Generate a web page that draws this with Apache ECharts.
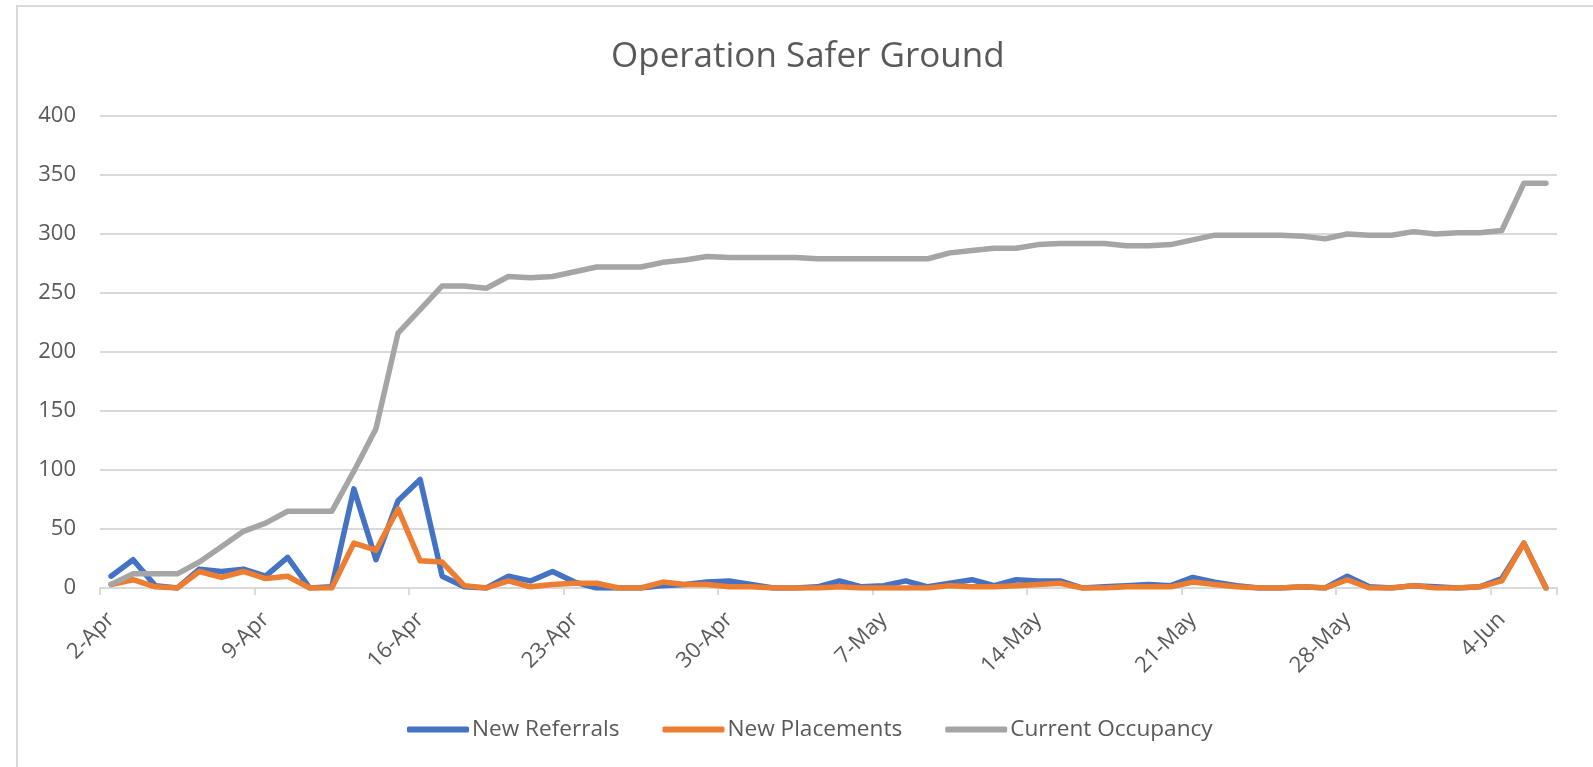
<!DOCTYPE html>
<html>
<head>
<meta charset="utf-8">
<title>Operation Safer Ground</title>
<script src="https://cdn.jsdelivr.net/npm/echarts@6/dist/echarts.min.js"></script>
<style>
  html, body { margin: 0; padding: 0; background: #fff; overflow: hidden; }
  #chart { position: absolute; left: 0; top: 0; width: 1593px; height: 767px; }
  #frame {
    position: absolute; left: 16px; top: 5px; width: 1700px; height: 900px;
    border-left: 2px solid #d9d9d9; border-top: 2px solid #d9d9d9;
    pointer-events: none;
  }
</style>
</head>
<body>
<div id="chart"></div>
<div id="frame"></div>
<script>
const days = [
  "2-Apr", "3-Apr", "4-Apr", "5-Apr", "6-Apr", "7-Apr", "8-Apr", "9-Apr", "10-Apr", "11-Apr",
  "12-Apr", "13-Apr", "14-Apr", "15-Apr", "16-Apr", "17-Apr", "18-Apr", "19-Apr", "20-Apr", "21-Apr",
  "22-Apr", "23-Apr", "24-Apr", "25-Apr", "26-Apr", "27-Apr", "28-Apr", "29-Apr", "30-Apr",
  "1-May", "2-May", "3-May", "4-May", "5-May", "6-May", "7-May", "8-May", "9-May", "10-May",
  "11-May", "12-May", "13-May", "14-May", "15-May", "16-May", "17-May", "18-May", "19-May", "20-May",
  "21-May", "22-May", "23-May", "24-May", "25-May", "26-May", "27-May", "28-May", "29-May", "30-May",
  "31-May", "1-Jun", "2-Jun", "3-Jun", "4-Jun", "5-Jun", "6-Jun"
];

const newReferrals = [
  10, 24, 2, 0, 16, 14, 16, 10, 26, 0,
  1, 84, 24, 74, 92, 10, 1, 0, 10, 6,
  14, 5, 0, 0, 0, 2, 3, 5, 6,
  3, 0, 0, 1, 6, 1, 2, 6, 1, 4,
  7, 2, 7, 6, 6, 0, 1, 2, 3, 2,
  9, 5, 2, 0, 0, 1, 0, 10, 1, 0,
  2, 1, 0, 1, 8, 38, 0
];

const newPlacements = [
  3, 7, 1, 0, 14, 9, 14, 8, 10, 0,
  0, 38, 32, 67, 23, 22, 2, 0, 6, 1,
  3, 4, 4, 0, 0, 5, 3, 3, 1,
  1, 0, 0, 0, 1, 0, 0, 0, 0, 2,
  1, 1, 2, 3, 4, 0, 0, 1, 1, 1,
  5, 3, 1, 0, 0, 1, 0, 7, 0, 0,
  2, 0, 0, 1, 6, 38, 0
];

const currentOccupancy = [
  3, 12, 12, 12, 22, 35, 48, 55, 65, 65,
  65, 99, 135, 216, 236, 256, 256, 254, 264, 263,
  264, 268, 272, 272, 272, 276, 278, 281, 280,
  280, 280, 280, 279, 279, 279, 279, 279, 279, 284,
  286, 288, 288, 291, 292, 292, 292, 290, 290, 291,
  295, 299, 299, 299, 299, 298, 296, 300, 299, 299,
  302, 300, 301, 301, 303, 343, 343
];

const yTicks = [0, 50, 100, 150, 200, 250, 300, 350, 400];

const textColor = "#595959";
const gridColor = "#d9d9d9";
const font = "Open Sans";

var myChart = echarts.init(document.getElementById("chart"));

function lineSeries(name, data, color) {
  return {
    name: name,
    type: "line",
    data: data,
    symbol: "none",
    showSymbol: false,
    animation: false,
    itemStyle: { color: color },
    lineStyle: { color: color, width: 5.5, cap: "round", join: "round" },
  };
}

var option = {
  textStyle: { fontFamily: font },
  title: {
    text: "Operation Safer Ground",
    left: 611,
    top: 40,
    padding: 0,
    textStyle: { fontFamily: font, fontSize: 35, fontWeight: "normal", color: textColor },
  },
  legend: {
    left: 407,
    top: 718,
    padding: 0,
    itemWidth: 62,
    itemHeight: 6,
    itemGap: 43,
    icon: "roundRect",
    textStyle: { fontFamily: font, fontSize: 22.6, color: textColor, padding: [0, 0, 0, -2] },
    data: ["New Referrals", "New Placements", "Current Occupancy"],
  },
  grid: { left: 100, right: 36, top: 116, bottom: 179, containLabel: false },
  xAxis: {
    type: "category",
    data: days,
    boundaryGap: true,
    axisLine: { show: true, lineStyle: { color: gridColor, width: 2 } },
    axisTick: { show: true, interval: 6, length: 7, lineStyle: { color: gridColor, width: 2 } },
    axisLabel: {
      interval: 6,
      rotate: 45,
      margin: 28,
      fontFamily: font,
      fontSize: 22,
      color: textColor,
    },
    splitLine: { show: false },
  },
  yAxis: {
    type: "value",
    min: yTicks[0],
    max: yTicks[yTicks.length - 1],
    interval: yTicks[1] - yTicks[0],
    axisLine: { show: false },
    axisTick: { show: false },
    axisLabel: { margin: 24, fontFamily: font, fontSize: 22, color: textColor },
    splitLine: { lineStyle: { color: gridColor, width: 2 } },
  },
  series: [
    lineSeries("New Referrals", newReferrals, "#4472c4"),
    lineSeries("New Placements", newPlacements, "#ed7d31"),
    lineSeries("Current Occupancy", currentOccupancy, "#a5a5a5"),
  ],
};

myChart.setOption(option);
window.onresize = myChart.resize;
</script>
</body>
</html>
